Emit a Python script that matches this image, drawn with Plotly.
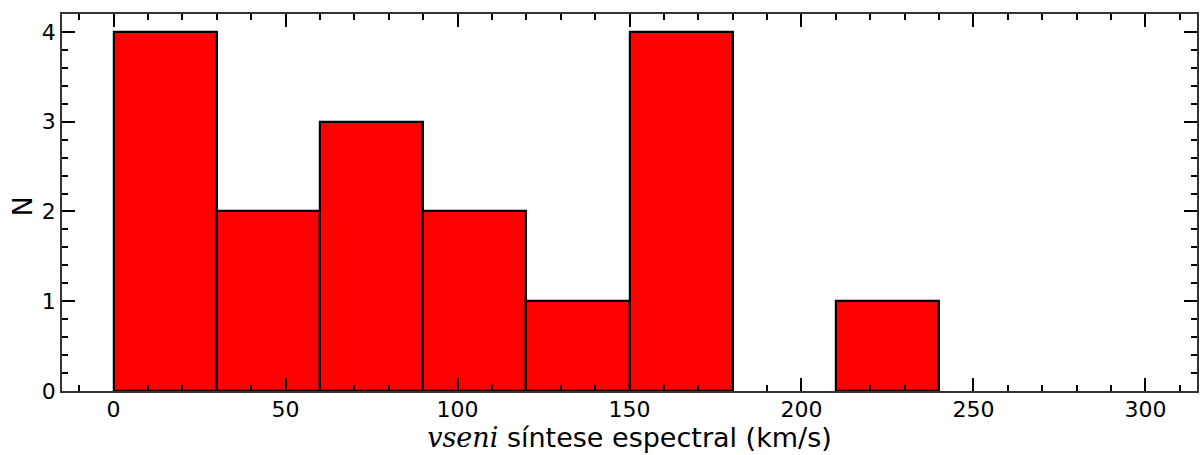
import plotly.graph_objects as go

bin_left = [0, 30, 60, 90, 120, 150, 180, 210]
bin_width = 30
counts = [4, 2, 3, 2, 1, 4, 0, 1]
x_ticks = [0, 50, 100, 150, 200, 250, 300]
y_ticks = [0, 1, 2, 3, 4]

centers = [b + bin_width / 2 for b in bin_left]
edge_widths = [2.2 if c > 0 else 0 for c in counts]

fig = go.Figure()
fig.add_trace(go.Bar(
    x=centers, y=counts, width=[bin_width] * len(counts),
    marker=dict(color="#ff0000", line=dict(color="black", width=edge_widths)),
    hoverinfo="x+y",
))

axis_common = dict(
    showline=True, linecolor="#333", linewidth=1.5, mirror="ticks",
    ticks="inside", ticklen=13, tickwidth=1.5, tickcolor="black",
    showgrid=False, zeroline=False,
    tickfont=dict(family="DejaVu Sans", size=22, color="black"),
)

fig.update_xaxes(
    range=[-15, 315], tickvals=x_ticks, ticklabelstandoff=-2,
    minor=dict(ticks="inside", dtick=10, tick0=0, ticklen=6, tickwidth=1.5, tickcolor="black", showgrid=False),
    title=dict(
        text="<span style='font-family:DejaVu Serif'><i>vseni</i></span> síntese espectral (km/s)",
        font=dict(family="DejaVu Sans", size=27, color="black"), standoff=2,
    ),
    **axis_common,
)
fig.update_yaxes(
    range=[0, 4.2], tickvals=y_ticks,
    minor=dict(ticks="inside", dtick=0.2, tick0=0, ticklen=6, tickwidth=1.5, tickcolor="black", showgrid=False),
    **axis_common,
)

fig.add_annotation(
    text="N", textangle=-90, showarrow=False,
    xref="paper", yref="paper", x=0, y=0.5, xanchor="center", yanchor="middle",
    xshift=-40, yshift=-4,
    font=dict(family="DejaVu Sans", size=27, color="black"),
)

fig.update_layout(
    width=1200, height=455,
    margin=dict(l=62, r=1, t=14, b=64),
    paper_bgcolor="white", plot_bgcolor="white",
    showlegend=False, bargap=0,
)

fig.write_html("out.html")
